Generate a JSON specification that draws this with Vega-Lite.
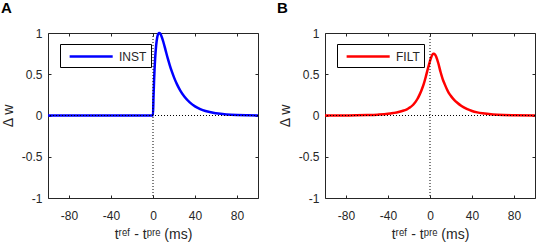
{
  "$schema": "https://vega.github.io/schema/vega-lite/v6.json",
  "background": "white",
  "padding": {"left": 0, "top": 0, "right": 2, "bottom": 0},
  "datasets": {
    "inst": [
      {"t": -100, "w": 0, "series": "INST"},
      {"t": -50, "w": 0, "series": "INST"},
      {"t": 0, "w": 0, "series": "INST"},
      {"t": 0.5, "w": 0.229, "series": "INST"},
      {"t": 1, "w": 0.416, "series": "INST"},
      {"t": 1.5, "w": 0.566, "series": "INST"},
      {"t": 2, "w": 0.685, "series": "INST"},
      {"t": 3, "w": 0.851, "series": "INST"},
      {"t": 4, "w": 0.946, "series": "INST"},
      {"t": 5, "w": 0.99, "series": "INST"},
      {"t": 6, "w": 1.0, "series": "INST"},
      {"t": 7, "w": 0.99, "series": "INST"},
      {"t": 8, "w": 0.965, "series": "INST"},
      {"t": 10, "w": 0.885, "series": "INST"},
      {"t": 12, "w": 0.79, "series": "INST"},
      {"t": 14, "w": 0.695, "series": "INST"},
      {"t": 16, "w": 0.609, "series": "INST"},
      {"t": 18, "w": 0.531, "series": "INST"},
      {"t": 20, "w": 0.462, "series": "INST"},
      {"t": 23, "w": 0.374, "series": "INST"},
      {"t": 26, "w": 0.302, "series": "INST"},
      {"t": 30, "w": 0.227, "series": "INST"},
      {"t": 35, "w": 0.159, "series": "INST"},
      {"t": 40, "w": 0.111, "series": "INST"},
      {"t": 45, "w": 0.078, "series": "INST"},
      {"t": 50, "w": 0.054, "series": "INST"},
      {"t": 60, "w": 0.027, "series": "INST"},
      {"t": 70, "w": 0.013, "series": "INST"},
      {"t": 80, "w": 0.006, "series": "INST"},
      {"t": 90, "w": 0.003, "series": "INST"},
      {"t": 100, "w": 0.0015, "series": "INST"}
    ],
    "filt": [
      {"t": -100, "w": 0, "series": "FILT"},
      {"t": -80, "w": 0.001, "series": "FILT"},
      {"t": -70, "w": 0.002, "series": "FILT"},
      {"t": -60, "w": 0.005, "series": "FILT"},
      {"t": -50, "w": 0.01, "series": "FILT"},
      {"t": -40, "w": 0.02, "series": "FILT"},
      {"t": -35, "w": 0.03, "series": "FILT"},
      {"t": -30, "w": 0.042, "series": "FILT"},
      {"t": -25, "w": 0.06, "series": "FILT"},
      {"t": -22, "w": 0.075, "series": "FILT"},
      {"t": -20, "w": 0.09, "series": "FILT"},
      {"t": -16, "w": 0.13, "series": "FILT"},
      {"t": -12, "w": 0.2, "series": "FILT"},
      {"t": -10, "w": 0.25, "series": "FILT"},
      {"t": -8, "w": 0.31, "series": "FILT"},
      {"t": -6, "w": 0.38, "series": "FILT"},
      {"t": -4, "w": 0.47, "series": "FILT"},
      {"t": -2, "w": 0.57, "series": "FILT"},
      {"t": 0, "w": 0.66, "series": "FILT"},
      {"t": 1, "w": 0.7, "series": "FILT"},
      {"t": 2, "w": 0.73, "series": "FILT"},
      {"t": 3, "w": 0.75, "series": "FILT"},
      {"t": 4, "w": 0.75, "series": "FILT"},
      {"t": 5, "w": 0.735, "series": "FILT"},
      {"t": 6, "w": 0.71, "series": "FILT"},
      {"t": 8, "w": 0.63, "series": "FILT"},
      {"t": 10, "w": 0.53, "series": "FILT"},
      {"t": 12, "w": 0.445, "series": "FILT"},
      {"t": 14, "w": 0.38, "series": "FILT"},
      {"t": 16, "w": 0.32, "series": "FILT"},
      {"t": 18, "w": 0.27, "series": "FILT"},
      {"t": 20, "w": 0.235, "series": "FILT"},
      {"t": 23, "w": 0.19, "series": "FILT"},
      {"t": 26, "w": 0.155, "series": "FILT"},
      {"t": 30, "w": 0.115, "series": "FILT"},
      {"t": 35, "w": 0.08, "series": "FILT"},
      {"t": 40, "w": 0.055, "series": "FILT"},
      {"t": 45, "w": 0.038, "series": "FILT"},
      {"t": 50, "w": 0.026, "series": "FILT"},
      {"t": 60, "w": 0.012, "series": "FILT"},
      {"t": 70, "w": 0.005, "series": "FILT"},
      {"t": 80, "w": 0.002, "series": "FILT"},
      {"t": 100, "w": 0, "series": "FILT"}
    ],
    "ref": [{"t0": 0, "w0": 0}]
  },
  "spacing": 67,
  "bounds": "flush",
  "resolve": {"scale": {"color": "independent"}, "legend": {"color": "independent"}},
  "hconcat": [
    {
      "width": 210,
      "height": 165,
      "title": {"text": "A", "anchor": "start", "frame": "group", "dx": -47, "offset": -1, "baseline": "alphabetic", "fontSize": 15, "fontWeight": "bold", "color": "black"},
      "layer": [
        {
          "data": {"name": "inst"},
          "mark": {"type": "line", "strokeWidth": 2.5, "interpolate": "monotone"},
          "encoding": {
            "x": {"field": "t", "type": "quantitative", "scale": {"domain": [-100, 100], "nice": false}, "axis": {"orient": "bottom", "values": [-80, -40, 0, 40, 80], "title": "tʳᵉᶠ - tᵖʳᵉ (ms)", "labelPadding": 15}},
            "y": {"field": "w", "type": "quantitative", "scale": {"domain": [-1, 1], "nice": false}, "axis": {"orient": "left", "values": [-1, -0.5, 0, 0.5, 1], "title": "Δ w", "labelPadding": 9}},
            "color": {"field": "series", "type": "nominal", "scale": {"domain": ["INST"], "range": ["#0000ff"]},
              "legend": {"orient": "none", "legendX": 12, "legendY": 11, "title": null, "symbolType": "M-0.4,0L5.6,0", "symbolSize": 206, "symbolStrokeWidth": 2.5, "symbolFillColor": "transparent", "strokeColor": "black", "fillColor": "white", "padding": 4, "labelFontSize": 12, "labelColor": "#262626", "labelOffset": 38}}
          }
        },
        {
          "data": {"name": "ref"},
          "mark": {"type": "rule", "strokeDash": [1, 2], "color": "black", "strokeWidth": 1},
          "encoding": {
            "x": {"field": "t0", "type": "quantitative", "scale": {"domain": [-100, 100], "nice": false}, "axis": {"orient": "top", "values": [-80, -40, 0, 40, 80], "labels": false, "title": null, "minExtent": 0, "labelPadding": 0}}
          }
        },
        {
          "data": {"name": "ref"},
          "mark": {"type": "rule", "strokeDash": [1, 2], "color": "black", "strokeWidth": 1},
          "encoding": {
            "y": {"field": "w0", "type": "quantitative", "scale": {"domain": [-1, 1], "nice": false}, "axis": {"orient": "right", "values": [-1, -0.5, 0, 0.5, 1], "labels": false, "title": null, "minExtent": 0, "labelPadding": 0}}
          }
        }
      ],
      "resolve": {"axis": {"x": "independent", "y": "independent"}}
    },
    {
      "width": 210,
      "height": 165,
      "title": {"text": "B", "anchor": "start", "frame": "group", "dx": -48, "offset": -1, "baseline": "alphabetic", "fontSize": 15, "fontWeight": "bold", "color": "black"},
      "layer": [
        {
          "data": {"name": "filt"},
          "mark": {"type": "line", "strokeWidth": 2.5, "interpolate": "monotone"},
          "encoding": {
            "x": {"field": "t", "type": "quantitative", "scale": {"domain": [-100, 100], "nice": false}, "axis": {"orient": "bottom", "values": [-80, -40, 0, 40, 80], "title": "tʳᵉᶠ - tᵖʳᵉ (ms)", "labelPadding": 15}},
            "y": {"field": "w", "type": "quantitative", "scale": {"domain": [-1, 1], "nice": false}, "axis": {"orient": "left", "values": [-1, -0.5, 0, 0.5, 1], "title": "Δ w", "labelPadding": 9}},
            "color": {"field": "series", "type": "nominal", "scale": {"domain": ["FILT"], "range": ["#ff0000"]},
              "legend": {"orient": "none", "legendX": 12, "legendY": 11, "title": null, "symbolType": "M-0.4,0L5.6,0", "symbolSize": 206, "symbolStrokeWidth": 2.5, "symbolFillColor": "transparent", "strokeColor": "black", "fillColor": "white", "padding": 4, "labelFontSize": 12, "labelColor": "#262626", "labelOffset": 38}}
          }
        },
        {
          "data": {"name": "ref"},
          "mark": {"type": "rule", "strokeDash": [1, 2], "color": "black", "strokeWidth": 1},
          "encoding": {
            "x": {"field": "t0", "type": "quantitative", "scale": {"domain": [-100, 100], "nice": false}, "axis": {"orient": "top", "values": [-80, -40, 0, 40, 80], "labels": false, "title": null, "minExtent": 0, "labelPadding": 0}}
          }
        },
        {
          "data": {"name": "ref"},
          "mark": {"type": "rule", "strokeDash": [1, 2], "color": "black", "strokeWidth": 1},
          "encoding": {
            "y": {"field": "w0", "type": "quantitative", "scale": {"domain": [-1, 1], "nice": false}, "axis": {"orient": "right", "values": [-1, -0.5, 0, 0.5, 1], "labels": false, "title": null, "minExtent": 0, "labelPadding": 0}}
          }
        }
      ],
      "resolve": {"axis": {"x": "independent", "y": "independent"}}
    }
  ],
  "config": {
    "font": "Liberation Sans",
    "view": {"stroke": "#262626", "strokeWidth": 1},
    "axis": {"domain": false, "grid": false, "tickColor": "#262626", "labelColor": "#262626", "titleColor": "#262626", "labelFontSize": 12, "titleFontSize": 14, "titleFontWeight": "normal", "tickSize": -3, "titlePadding": 6, "labelExpr": "datum.value + ''"}
  }
}
